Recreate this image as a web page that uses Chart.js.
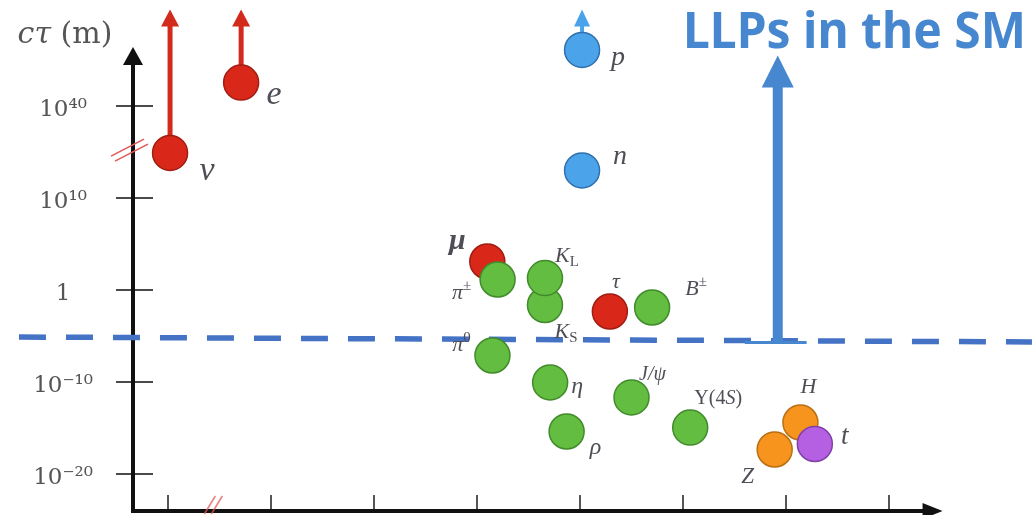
<!DOCTYPE html>
<html><head><meta charset="utf-8">
<script src="https://cdn.jsdelivr.net/npm/chart.js@4.4.1/dist/chart.umd.min.js"></script>
<style>html,body{margin:0;padding:0;background:#fff;overflow:hidden}#wrap{width:1032px;height:515px}</style>
</head><body><div id="wrap"><canvas id="c" width="1032" height="515"></canvas></div>
<script>
// ---------------- DATA ----------------
// Particles placed on a schematic (mass, log cτ) diagram.
const particles = ['ν','e','p','n','μ','π±','K_S','K_L','τ','B±','π0','η','J/ψ','ρ','Υ(4S)','Z','H','t'];
const family    = ['lepton','lepton','baryon','baryon','lepton','meson','meson','meson','lepton','meson','meson','meson','meson','meson','meson','boson','boson','quark'];
// position along the (schematic) mass axis, in tick units
const massAxisPos = [0.02, 0.71, 4.02, 4.02, 3.10, 3.20, 3.66, 3.66, 4.29, 4.70, 3.15, 3.71, 4.50, 3.87, 5.07, 5.89, 6.14, 6.28];
// position along the (broken) log10(cτ/m) axis: 0 = 1 m, -10 = 1e-10 m, 10 = 1e10 m, 20 = 1e40 m
const lifetimeAxisPos = [14.9, 22.55, 26.1, 13.0, 3.1, 1.14, -1.63, 1.30, -2.34, -1.90, -7.12, -10.05, -11.68, -15.38, -14.95, -17.34, -14.40, -16.74];
// particles that are (effectively) stable: drawn with an upward arrow
const stableParticles = ['ν','e','p'];
const yTickValues = [-20, -10, 0, 10, 20];
const yTickLabels = ['10⁻²⁰', '10⁻¹⁰', '1', '10¹⁰', '10⁴⁰'];
const xTickValues = [0, 1, 2, 3, 4, 5, 6, 7];
// LLP threshold (dashed line) and the "LLPs" arrow
const llpBoundaryX = [-1.447, 8.388];
const llpBoundaryY = [-5.11, -5.65];
const llpArrowX = 5.92;
const llpArrowY = [-5.70, 25.5];
const llpBaseX = [5.60, 6.20];
const llpTitle = 'LLPs in the SM';
const axisTitle = ['cτ', ' (m)'];
const yBreakAt = 15.2;   // axis break on the y axis
const xBreakAt = 0.45;   // axis break on the x axis

// ---------------- STYLE ----------------
const famFill   = {lepton:'#d9281a', baryon:'#4ba4ea', meson:'#63bd40', boson:'#f7941e', quark:'#b560e3'};
const famBorder = {lepton:'#a11d12', baryon:'#2f70ad', meson:'#418b2c', boson:'#b96f14', quark:'#8041a8'};
const labelStyle = {
  'ν':    {dx:37, dy:17, size:34, parts:[{t:'ν',it:1}]},
  'e':    {dx:33, dy:11, size:34, parts:[{t:'e',it:1}]},
  'p':    {dx:36, dy:7,  size:28, parts:[{t:'p',it:1}]},
  'n':    {dx:38, dy:-15,size:28, parts:[{t:'n',it:1}]},
  'μ':    {dx:-30,dy:-21,size:30, parts:[{t:'μ',it:1,b:1}]},
  'π±':   {dx:-36,dy:13, size:22, parts:[{t:'π',it:1},{t:'±',sup:1}]},
  'K_S':  {dx:21, dy:26, size:22, parts:[{t:'K',it:1},{t:'S',sub:1}]},
  'K_L':  {dx:22, dy:-23,size:22, parts:[{t:'K',it:1},{t:'L',sub:1}]},
  'τ':    {dx:6,  dy:-30,size:22, parts:[{t:'τ',it:1}]},
  'B±':   {dx:44, dy:-19,size:22, parts:[{t:'B',it:1},{t:'±',sup:1}]},
  'π0':   {dx:-31,dy:-11,size:22, parts:[{t:'π',it:1},{t:'0',sup:1}]},
  'η':    {dx:27, dy:3,  size:24, parts:[{t:'η',it:1}]},
  'J/ψ':  {dx:21, dy:-23,size:20, parts:[{t:'J/ψ',it:1}]},
  'ρ':    {dx:29, dy:15, size:24, parts:[{t:'ρ',it:1}]},
  'Υ(4S)':{dx:28, dy:-30,size:20, parts:[{t:'Υ(4'},{t:'S',it:1},{t:')'}]},
  'Z':    {dx:-27,dy:27, size:23, parts:[{t:'Z',it:1}]},
  'H':    {dx:8,  dy:-36,size:22, parts:[{t:'H',it:1}]},
  't':    {dx:30, dy:-8, size:27, parts:[{t:'t',it:1}]}
};
const SERIF = '"Liberation Serif", "DejaVu Serif", serif';
const labelColor = '#4e4e56';

function drawRich(ctx, parts, cx, cy, size, color, family) {
  const fam = family || SERIF;
  const segs = parts.map(p => {
    const s = (p.sup || p.sub) ? size * 0.68 : size;
    const font = (p.b ? 'bold ' : '') + (p.it ? 'italic ' : '') + s + 'px ' + fam;
    ctx.font = font;
    return {p, s, font, w: ctx.measureText(p.t).width};
  });
  const total = segs.reduce((a, s) => a + s.w, 0);
  let x = cx - total / 2;
  const base = cy + size * 0.3;
  ctx.fillStyle = color;
  ctx.textAlign = 'left';
  ctx.textBaseline = 'alphabetic';
  segs.forEach(s => {
    ctx.font = s.font;
    let y = base;
    if (s.p.sup) y = base - size * 0.42;
    if (s.p.sub) y = base + size * 0.18;
    ctx.fillText(s.p.t, x, y);
    x += s.w;
  });
}

function arrowHead(ctx, x, tipY, w, h, color) {
  ctx.fillStyle = color;
  ctx.beginPath();
  ctx.moveTo(x, tipY);
  ctx.lineTo(x - w / 2, tipY + h);
  ctx.lineTo(x + w / 2, tipY + h);
  ctx.closePath();
  ctx.fill();
}

const yAxisTop = 26.4;
const xAxisEnd = 7.52;
const stableArrowTip = 30.5;

const overlay = {
  id: 'overlay',
  beforeDatasetsDraw(chart) {
    const ctx = chart.ctx, xs = chart.scales.x, ys = chart.scales.y, ca = chart.chartArea;
    const X0 = ca.left, Y0 = ca.bottom;
    ctx.save();
    // y tick marks
    ctx.strokeStyle = '#4a4a4a'; ctx.lineWidth = 2;
    yTickValues.forEach(v => {
      const y = ys.getPixelForValue(v);
      ctx.beginPath(); ctx.moveTo(X0 - 17, y); ctx.lineTo(X0 + 20, y); ctx.stroke();
    });
    // x tick marks
    ctx.strokeStyle = '#555';
    xTickValues.forEach(v => {
      const x = xs.getPixelForValue(v);
      ctx.beginPath(); ctx.moveTo(x, Y0); ctx.lineTo(x, Y0 - 16); ctx.stroke();
    });
    // axes
    ctx.strokeStyle = '#111'; ctx.lineWidth = 4;
    const yTop = ys.getPixelForValue(yAxisTop);
    const xEnd = xs.getPixelForValue(xAxisEnd);
    ctx.beginPath(); ctx.moveTo(X0, Y0 + 2); ctx.lineTo(X0, yTop + 12); ctx.stroke();
    ctx.beginPath(); ctx.moveTo(X0 - 2, Y0); ctx.lineTo(xEnd - 14, Y0); ctx.stroke();
    arrowHead(ctx, X0, yTop, 20, 18, '#111');
    ctx.fillStyle = '#111';
    ctx.beginPath(); ctx.moveTo(xEnd, Y0); ctx.lineTo(xEnd - 20, Y0 - 8); ctx.lineTo(xEnd - 20, Y0 + 8); ctx.closePath(); ctx.fill();
    // axis breaks
    ctx.strokeStyle = '#e25a5a'; ctx.lineWidth = 1.6;
    const by = ys.getPixelForValue(yBreakAt);
    [[-3,-2],[1,3]].forEach(o => {
      ctx.beginPath(); ctx.moveTo(X0 - 19 + o[0], by + 8 + o[1]); ctx.lineTo(X0 + 14 + o[0], by - 9 + o[1]); ctx.stroke();
    });
    const bx = xs.getPixelForValue(xBreakAt);
    ctx.strokeStyle = 'rgba(226,90,90,0.75)';
    [-4, 3].forEach(o => {
      ctx.beginPath(); ctx.moveTo(bx - 6 + o, Y0 + 3); ctx.lineTo(bx + 5 + o, Y0 - 15); ctx.stroke();
    });
    // arrows of stable particles
    stableParticles.forEach(name => {
      const i = particles.indexOf(name);
      const x = xs.getPixelForValue(massAxisPos[i]);
      const y = ys.getPixelForValue(lifetimeAxisPos[i]);
      const tip = ys.getPixelForValue(stableArrowTip);
      const col = family[i] === 'baryon' ? '#4aa3ea' : '#d22a1c';
      const hw = family[i] === 'baryon' ? 16 : 18;
      ctx.strokeStyle = col; ctx.lineWidth = family[i] === 'baryon' ? 4 : 5;
      ctx.beginPath(); ctx.moveTo(x, y); ctx.lineTo(x, tip + 15); ctx.stroke();
      arrowHead(ctx, x, tip, hw, 17, col);
    });
    ctx.restore();
  },
  afterDatasetsDraw(chart) {
    const ctx = chart.ctx, xs = chart.scales.x, ys = chart.scales.y;
    ctx.save();
    // LLP arrow head
    const ax = xs.getPixelForValue(llpArrowX);
    const tip = ys.getPixelForValue(llpArrowY[1]);
    arrowHead(ctx, ax, tip, 32, 32, '#4687cf');
    // particle labels
    particles.forEach((name, i) => {
      const st = labelStyle[name];
      const x = xs.getPixelForValue(massAxisPos[i]);
      const y = ys.getPixelForValue(lifetimeAxisPos[i]);
      drawRich(ctx, st.parts, x + st.dx, y + st.dy, st.size, labelColor);
    });
    // axis title
    drawRich(ctx, [{t:axisTitle[0], it:1}, {t:axisTitle[1]}], 65, 34, 30, '#555', '"DejaVu Serif", serif');
    // LLP title
    ctx.font = 'bold 51px "Noto Sans", sans-serif';
    const w = ctx.measureText(llpTitle).width;
    ctx.translate(683, 48);
    ctx.scale(343 / w, 1);
    ctx.fillStyle = '#4687cf';
    ctx.textAlign = 'left'; ctx.textBaseline = 'alphabetic';
    ctx.fillText(llpTitle, 0, 0);
    ctx.restore();
  }
};

const pts = particles.map((n, i) => ({x: massAxisPos[i], y: lifetimeAxisPos[i]}));

new Chart(document.getElementById('c'), {
  type: 'scatter',
  data: {
    datasets: [
      {
        label: 'particles', order: 0, clip: false,
        data: pts,
        pointRadius: 17.5, pointHoverRadius: 17.5,
        backgroundColor: family.map(f => famFill[f]),
        borderColor: family.map(f => famBorder[f]),
        borderWidth: 1.5
      },
      {
        label: 'LLP boundary', type: 'line', order: 2, clip: false,
        data: llpBoundaryX.map((x, i) => ({x, y: llpBoundaryY[i]})),
        borderColor: '#4472c4', borderWidth: 5.5, borderDash: [27, 20],
        pointRadius: 0, showLine: true, fill: false, tension: 0
      },
      {
        label: 'LLP arrow', type: 'line', order: 1, clip: false,
        data: [{x: llpArrowX, y: llpArrowY[0]}, {x: llpArrowX, y: llpArrowY[1] - 3.3}],
        borderColor: '#4687cf', borderWidth: 10, pointRadius: 0, showLine: true, fill: false
      },
      {
        label: 'LLP arrow base', type: 'line', order: 1, clip: false,
        data: llpBaseX.map(x => ({x, y: llpArrowY[0]})),
        borderColor: '#4687cf', borderWidth: 3, pointRadius: 0, showLine: true, fill: false
      }
    ]
  },
  options: {
    responsive: false, devicePixelRatio: 1, animation: false, events: [],
    layout: {autoPadding: false, padding: {left: 0, right: 0, top: 0, bottom: 4}},
    plugins: {legend: {display: false}, tooltip: {enabled: false}, title: {display: false}},
    scales: {
      x: {
        type: 'linear', display: false,
        min: (133 - 168) / 103, max: (1032 - 168) / 103
      },
      y: {
        type: 'linear', position: 'left',
        min: -(511 - 290) / 9.2, max: 290 / 9.2,
        afterFit(s) { s.width = 133; s.paddingTop = 0; s.paddingBottom = 0; },
        afterBuildTicks(s) { s.ticks = yTickValues.map(v => ({value: v})); },
        grid: {display: false, drawTicks: false},
        border: {display: false},
        ticks: {
          autoSkip: false, crossAlign: 'center', padding: 40, labelOffset: 4,
          color: '#555', font: {family: 'DejaVu Serif', size: 23},
          callback: (v) => yTickLabels[yTickValues.indexOf(v)]
        }
      }
    }
  },
  plugins: [overlay]
});
</script></body></html>
